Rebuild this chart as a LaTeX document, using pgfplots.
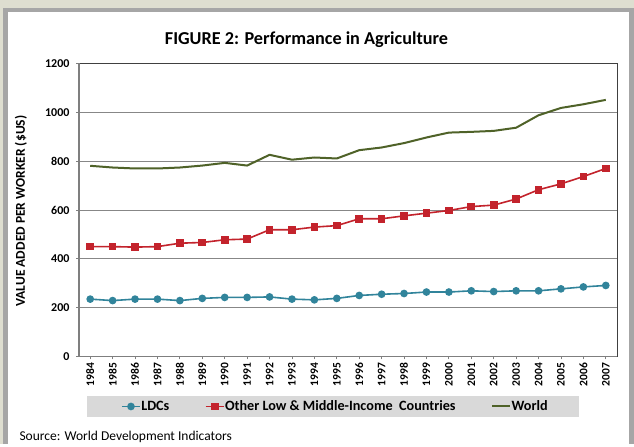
\documentclass[border=0pt]{standalone}
\usepackage{pgfplots}
\pgfplotsset{compat=1.18}
\usepackage{fontspec}
\setmainfont{Carlito}
\definecolor{bgouter}{HTML}{DEDED0}
\definecolor{framegray}{HTML}{A6A6A6}
\definecolor{ldc}{HTML}{31849B}
\definecolor{oth}{HTML}{C3232C}
\definecolor{wld}{HTML}{4F6228}
\definecolor{leggray}{HTML}{D9D9D9}
\definecolor{gridgray}{HTML}{878787}
\definecolor{axgray}{HTML}{7F7F7F}
\definecolor{boxdark}{HTML}{404040}

\pgfplotstableread{
idx year ldc other world
0 1984 235 450 781
1 1985 229 450 774
2 1986 235 448 770
3 1987 235 450 770
4 1988 229 464 774
5 1989 238 467 782
6 1990 242 478 793
7 1991 242 481 782
8 1992 244 519 826
9 1993 235 519 806
10 1994 232 530 815
11 1995 238 536 811
12 1996 250 564 845
13 1997 255 564 856
14 1998 258 576 874
15 1999 264 587 897
16 2000 264 598 917
17 2001 269 614 920
18 2002 266 620 924
19 2003 269 645 937
20 2004 269 683 988
21 2005 277 707 1018
22 2006 285 737 1033
23 2007 291 770 1051
}\datatable

\begin{document}
\begin{tikzpicture}[x=1pt,y=1pt]
\fill[bgouter] (0,0) rectangle (634,444);
\fill[framegray] (3,0) rectangle (634,436);
\fill[white] (8,0) rectangle (629,432);
\node[font=\bfseries\fontsize{18.2}{21}\selectfont] at (306.5,404) {FIGURE 2: Performance in Agriculture};
\node[anchor=west, font=\fontsize{13.5}{15}\selectfont] at (16,7) {Source: World Development Indicators};
\node[rotate=90, font=\bfseries\fontsize{13.5}{15}\selectfont] at (21,233) {VALUE ADDED PER WORKER (\$US)};
\fill[leggray] (87,27) rectangle (579,48);
\begin{axis}[
  at={(79pt,87.5pt)}, anchor=south west,
  width=538pt, height=293pt, scale only axis,
  xmin=-0.5, xmax=23.5, ymin=0, ymax=1200,
  xtick={0,...,23},
  xticklabels={1984,1985,1986,1987,1988,1989,1990,1991,1992,1993,1994,1995,1996,1997,1998,1999,2000,2001,2002,2003,2004,2005,2006,2007},
  ytick={0,200,400,600,800,1000,1200},
  yticklabels={0,200,400,600,800,1000,1200},
  x tick label style={rotate=90, anchor=east, font=\bfseries\fontsize{11.5}{12}\selectfont},
  y tick label style={font=\bfseries\fontsize{12}{13}\selectfont, xshift=-3pt},
  tick pos=left, tick align=outside,
  major tick length=3pt,
  tick style={axgray, line width=0.8pt},
  ymajorgrids,
  major grid style={gridgray, line width=0.8pt},
  axis line style={boxdark, line width=0.8pt},
  legend columns=3,
  legend style={at={(rel axis cs:0.078,-0.1706)}, anchor=west, fill=none, draw=none,
    inner sep=0pt, font=\bfseries\fontsize{14.2}{16}\selectfont,
    nodes={inner xsep=0.5pt, inner ysep=1pt},
    /tikz/every even column/.append style={column sep=35pt}},
  legend image code/.code={\draw[mark repeat=2,mark phase=2,#1] plot coordinates {(0pt,0pt) (9pt,0pt) (18pt,0pt)};},
  clip=false,
]
\addplot[ldc, line width=1.6pt, mark=*, mark size=3pt] table[x=idx, y=ldc] {\datatable};
\addlegendentry{LDCs}
\addplot[oth, line width=1.6pt, mark=square*, mark size=3pt] table[x=idx, y=other] {\datatable};
\addlegendentry{Other Low \& Middle-Income\ \ Countries}
\addplot[wld, line width=2pt] table[x=idx, y=world] {\datatable};
\addlegendentry{World}
\draw[axgray, line width=1.6pt] (rel axis cs:0,1) -- (rel axis cs:0,0) -- (rel axis cs:1,0);
\end{axis}
\end{tikzpicture}
\end{document}
